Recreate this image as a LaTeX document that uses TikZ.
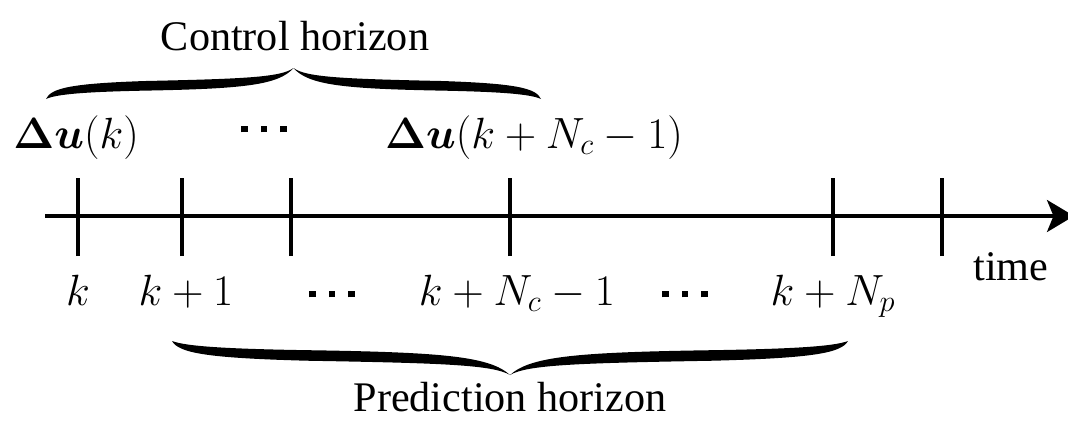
\documentclass[tikz,border=0pt]{standalone}
\usepackage{amsmath,amssymb}
\usepackage[no-math]{fontspec}
\setmainfont{Liberation Serif}
\usetikzlibrary{arrows.meta}
\newcommand{\sqdots}{\rule{1.3mm}{1.3mm}\hspace{2.6mm}\rule{1.3mm}{1.3mm}\hspace{2.6mm}\rule{1.3mm}{1.3mm}}

\begin{document}
\begin{tikzpicture}[
  x=0.2mm, y=0.2mm,
  lbl/.style={inner sep=0pt, anchor=base, font=\fontsize{24}{28}\selectfont},
  dotsnode/.style={inner sep=0pt, anchor=center},
  axisline/.style={line width=2pt, -{Stealth[length=5.4mm, width=6.4mm, inset=1.3mm]}},
  tickmark/.style={line width=2pt},
  % one half of a calligraphic brace, end at (0,0), tip at (1,1)
  pics/halfbrace/.style={code={
    \fill (0,0) .. controls (0.02,0.35) and (0.1,0.5) .. (0.4,0.58)
      .. controls (0.8,0.65) and (0.95,0.7) .. (1,1)
      .. controls (0.94,0.45) and (0.8,0.33) .. (0.4,0.27)
      .. controls (0.15,0.23) and (0.04,0.15) .. cycle;
  }}
]
\useasboundingbox (0,0) rectangle (1068,420);

% control horizon
\node[lbl] (ctrl) at (295,370) {Control horizon};
\coordinate (cl) at (46,321);
\coordinate (cr) at (541,321);
\pic[shift={(cl)}, xscale=247.5, yscale=31] {halfbrace};
\pic[shift={(cr)}, xscale=-247.5, yscale=31] {halfbrace};

\node[lbl] (du0) at (76,272) {$\boldsymbol{\Delta u}(k)$};
\node[dotsnode] (dutop) at (264,291) {\sqdots};
\node[lbl] (duc) at (534,272) {$\boldsymbol{\Delta u}(k+N_c-1)$};

% time axis
\coordinate (axl) at (45,204);
\coordinate (axr) at (1074,204);
\draw[axisline] (axl) -- (axr);
\foreach \x [count=\i] in {78,182,291,510,833,942}
  \draw[tickmark] (\x,164) coordinate (tb\i) -- (\x,242) coordinate (tt\i);

\node[lbl] (k0) at (78,115) {$k$};
\node[lbl] (k1) at (186,115) {$k+1$};
\node[dotsnode] (dots1) at (332,126) {\sqdots};
\node[lbl] (kc) at (517,115) {$k+N_c-1$};
\node[dotsnode] (dots2) at (685,126) {\sqdots};
\node[lbl] (kp) at (833,115) {$k+N_p$};
\node[lbl] (time) at (1011,140) {time};

% prediction horizon
\coordinate (pl) at (172,79);
\coordinate (pr) at (848,79);
\pic[shift={(pl)}, xscale=338, yscale=-34] {halfbrace};
\pic[shift={(pr)}, xscale=-338, yscale=-34] {halfbrace};
\node[lbl] (pred) at (510,9) {Prediction horizon};
\end{tikzpicture}
\end{document}
